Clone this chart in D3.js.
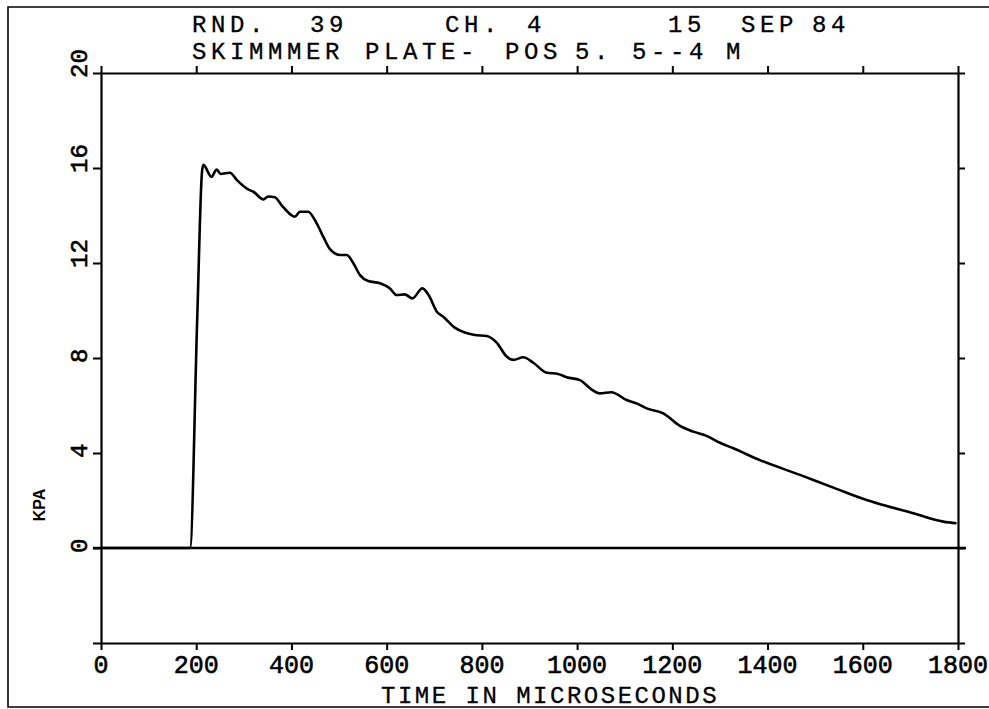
<!DOCTYPE html>
<html>
<head>
<meta charset="utf-8">
<script src="https://cdn.jsdelivr.net/npm/d3@7/dist/d3.min.js"></script>
<style>
  html, body { margin: 0; padding: 0; background: #fff; }
  svg { display: block; }
</style>
</head>
<body>
<svg id="chart" width="989" height="709"></svg>
<script>
// ---- data ----
const timeUs = [0, 187, 202, 212, 215, 232, 243, 251, 271, 285, 309, 320, 341, 351, 365, 379, 397, 407, 418, 435, 453, 467, 481, 502, 516, 530, 544, 561, 586, 607, 621, 638, 654, 675, 689, 705, 719, 743, 764, 785, 810, 831, 852, 866, 887, 908, 936, 960, 978, 1006, 1030, 1048, 1072, 1104, 1125, 1146, 1181, 1216, 1244, 1272, 1300, 1328, 1384, 1468, 1541, 1608, 1643, 1706, 1769, 1797];
const pressureKpa = [0, 0, 9.6, 15.8, 16.13, 15.63, 15.94, 15.75, 15.8, 15.5, 15.1, 15.0, 14.68, 14.8, 14.77, 14.44, 14.06, 13.95, 14.16, 14.16, 13.67, 13.1, 12.58, 12.34, 12.34, 11.99, 11.49, 11.24, 11.15, 10.93, 10.65, 10.68, 10.51, 10.93, 10.62, 9.96, 9.74, 9.28, 9.07, 8.97, 8.93, 8.65, 8.06, 7.92, 8.03, 7.8, 7.38, 7.33, 7.19, 7.07, 6.68, 6.51, 6.56, 6.23, 6.09, 5.88, 5.67, 5.14, 4.9, 4.72, 4.43, 4.2, 3.7, 3.08, 2.52, 2.02, 1.81, 1.46, 1.11, 1.04];
const xTicks = [0, 200, 400, 600, 800, 1000, 1200, 1400, 1600, 1800];
const yTicks = [-4, 0, 4, 8, 12, 16, 20];
const yTickLabels = ["", "0", "4", "8", "12", "16", "20"];
const titleLine1 = ["RND.", "39", "CH.", "4", "15", "SEP", "84"];
const titleLine2 = ["SKIMMMER", "PLATE-", "POS", "5. 5--4", "M"];
const xAxisTitle = "TIME IN MICROSECONDS";
const yAxisTitle = "KPA";

// ---- layout ----
const svg = d3.select("#chart");
const x = d3.scaleLinear().domain([0, 1800]).range([101, 958]);
const y = d3.scaleLinear().domain([-4, 20]).range([643, 73]);
const tickLen = 7;
const mono = "'Liberation Mono', 'DejaVu Sans Mono', monospace";

// outer frame
svg.append("path")
  .attr("d", "M995,7 H8 V707 H995")
  .attr("fill", "none").attr("stroke", "#000").attr("stroke-width", 1.6);

// axes
const axG = svg.append("g").attr("stroke", "#000").attr("stroke-width", 2).attr("fill", "none");
axG.append("g").attr("transform", `translate(0,${y(-4)})`)
  .call(d3.axisBottom(x).tickValues(xTicks).tickSize(tickLen).tickSizeOuter(0).tickFormat(""));
axG.append("g").attr("transform", `translate(0,${y(20)})`)
  .call(d3.axisTop(x).tickValues(xTicks).tickSize(tickLen).tickSizeOuter(0).tickFormat(""));
axG.append("g").attr("transform", `translate(${x(0)},0)`)
  .call(d3.axisLeft(y).tickValues(yTicks).tickSize(tickLen + 1).tickSizeOuter(0).tickFormat(""));
axG.append("g").attr("transform", `translate(${x(1800)},0)`)
  .call(d3.axisRight(y).tickValues(yTicks).tickSize(tickLen).tickSizeOuter(0).tickFormat(""));
axG.selectAll(".domain").attr("stroke", "#000").attr("stroke-width", 2.2);
axG.selectAll(".tick line").attr("stroke", "#000").attr("stroke-width", 2);

// zero line
svg.append("line")
  .attr("x1", x(0) - 8).attr("x2", x(1800) + 8)
  .attr("y1", y(0)).attr("y2", y(0))
  .attr("stroke", "#000").attr("stroke-width", 2.4);

// x tick labels
svg.append("g").selectAll("text").data(xTicks).join("text")
  .attr("x", d => x(d)).attr("y", 673)
  .attr("text-anchor", "middle")
  .attr("font-family", mono).attr("font-size", 25)
  .attr("stroke", "#000").attr("stroke-width", 0.6)
  .text(d => String(d));

// y tick labels (rotated)
svg.append("g").selectAll("text").data(yTicks).join("text")
  .attr("transform", d => `translate(87,${y(d) + 5}) rotate(-90)`)
  .attr("text-anchor", "start")
  .attr("font-family", mono).attr("font-size", 24)
  .attr("stroke", "#000").attr("stroke-width", 0.6)
  .text((d, i) => yTickLabels[i]);

// axis titles
svg.append("text")
  .attr("x", 381).attr("y", 703)
  .attr("font-family", mono).attr("font-size", 24)
  .attr("letter-spacing", 2.5)
  .attr("stroke", "#000").attr("stroke-width", 0.3)
  .text(xAxisTitle);
svg.append("text")
  .attr("transform", "translate(45,505) rotate(-90)")
  .attr("text-anchor", "middle")
  .attr("font-family", "'Liberation Sans', Arial, sans-serif")
  .attr("font-weight", "bold").attr("font-size", 16)
  .text(yAxisTitle);

// title
const l1x = [192, 310, 445, 527, 668, 741, 812];
const l2x = [192, 365, 505, 575, 726];
function titleRow(words, pos, base) {
  svg.append("g").selectAll("text").data(words).join("text")
    .attr("x", (d, i) => pos[i]).attr("y", base)
    .attr("font-family", mono).attr("font-size", 24)
    .attr("letter-spacing", 4.6)
    .attr("stroke", "#000").attr("stroke-width", 0.3)
    .text(d => d);
}
titleRow(titleLine1, l1x, 32);
titleRow(titleLine2, l2x, 59);

// data curve
const pts = timeUs.map((t, i) => [t, pressureKpa[i]]);
svg.append("path")
  .datum(pts)
  .attr("fill", "none").attr("stroke", "#000").attr("stroke-width", 2.6)
  .attr("stroke-linejoin", "round")
  .attr("d", d3.line().x(d => x(d[0])).y(d => y(d[1])).curve(d3.curveMonotoneX));
</script>
</body>
</html>
